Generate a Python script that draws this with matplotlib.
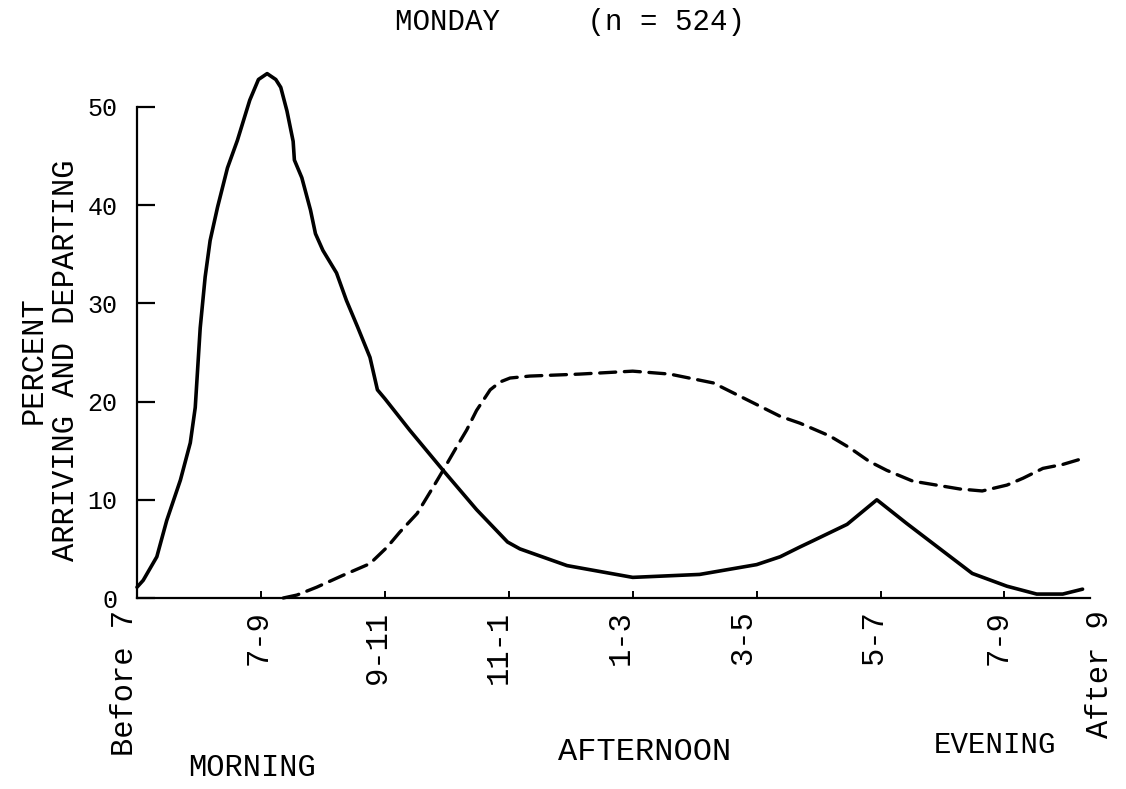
import matplotlib
matplotlib.use("Agg")
import matplotlib.pyplot as plt
import matplotlib.transforms as mtransforms

# time axis in "period" units: Before 7 = 0, 7-9 = 1, ... 7-9 (pm) = 7
periods = ["Before 7", "7-9", "9-11", "11-1", "1-3", "3-5", "5-7", "7-9", "After 9"]
period_pos = [0, 1, 2, 3, 4, 5, 6, 7, 7.69]

# solid curve (% per position)
solid_x = [0.00, 0.05, 0.16, 0.24, 0.35, 0.43, 0.47, 0.51, 0.55, 0.59, 0.65, 0.73,
           0.81, 0.91, 0.98, 1.05, 1.12, 1.16, 1.21, 1.26, 1.27, 1.33, 1.40, 1.44,
           1.50, 1.61, 1.69, 1.78, 1.88, 1.94, 2.00, 2.20, 2.47, 2.74, 2.99, 3.09,
           3.47, 4.00, 4.54, 5.00, 5.19, 5.35, 5.45, 5.73, 5.97, 6.21, 6.48, 6.74,
           7.02, 7.26, 7.47, 7.63]
solid_y = [1.1, 1.8, 4.2, 7.9, 12.0, 15.8, 19.4, 27.5, 32.7, 36.4, 39.8, 43.8,
           46.6, 50.7, 52.8, 53.4, 52.8, 52.0, 49.6, 46.5, 44.6, 42.8, 39.5, 37.1,
           35.4, 33.1, 30.3, 27.6, 24.5, 21.2, 20.3, 17.1, 13.0, 9.0, 5.7, 5.0,
           3.3, 2.1, 2.4, 3.4, 4.2, 5.2, 5.8, 7.5, 10.0, 7.6, 5.0, 2.5,
           1.2, 0.4, 0.4, 0.9]

# dashed curve
dash_x = [1.18, 1.29, 1.45, 1.66, 1.88, 2.02, 2.12, 2.26, 2.39, 2.47, 2.58, 2.66,
          2.74, 2.85, 2.93, 3.01, 3.17, 3.57, 4.00, 4.30, 4.65, 5.00, 5.19, 5.35,
          5.59, 5.75, 5.91, 6.05, 6.26, 6.45, 6.64, 6.82, 7.02, 7.15, 7.31, 7.47,
          7.63]
dash_y = [0.0, 0.3, 1.1, 2.3, 3.5, 5.2, 6.7, 8.6, 11.3, 13.0, 15.4, 17.1,
          19.1, 21.2, 22.0, 22.4, 22.6, 22.8, 23.1, 22.8, 21.9, 19.7, 18.5, 17.8,
          16.5, 15.3, 13.9, 13.0, 11.9, 11.5, 11.1, 10.9, 11.5, 12.2, 13.2, 13.6,
          14.2]

y_ticks = [0, 10, 20, 30, 40, 50]

FONT = ["Liberation Mono", "DejaVu Sans Mono"]

fig = plt.figure(figsize=(11.26, 7.89), dpi=100)
ax = fig.add_axes([137 / 1126, 1 - 598 / 789, (1090 - 137) / 1126, (598 - 107) / 789])

ax.plot(solid_x, solid_y, color="black", lw=2.6, solid_joinstyle="round",
        solid_capstyle="round", clip_on=False, zorder=3)
ax.plot(dash_x, dash_y, color="black", lw=2.4, dashes=(4.8, 2.6),
        dash_capstyle="round", clip_on=False, zorder=3)

ax.set_xlim(0, 7.69)
ax.set_ylim(0, 50)
for s in ["top", "right"]:
    ax.spines[s].set_visible(False)
for s in ["left", "bottom"]:
    ax.spines[s].set_linewidth(1.6)

ax.set_yticks(y_ticks)
ax.set_yticklabels([str(v) for v in y_ticks], family=FONT, fontsize=18)
ax.tick_params(axis="y", direction="in", length=13, width=1.6, pad=14)

ax.set_xticks(period_pos)
ax.set_xticklabels(periods, family=FONT, fontsize=22, rotation=90)
ax.tick_params(axis="x", direction="in", length=5, width=1.4, pad=9)
ax.xaxis.get_major_ticks()[-1].tick1line.set_visible(False)
shifts = [-12, -2, -7, -10, -12, -14, -6, -6, 10]
for lab, dx in zip(ax.get_xticklabels(), shifts):
    lab.set_transform(lab.get_transform() +
                      mtransforms.ScaledTranslation(dx / 100, 0, fig.dpi_scale_trans))

fig.text(50 / 1126, 1 - 360 / 789, "PERCENT\nARRIVING AND DEPARTING", rotation=90,
         ha="center", va="center", multialignment="center", linespacing=1.1,
         family=FONT, fontsize=22)
fig.text(570 / 1126, 1 - 22 / 789, "MONDAY     (n = 524)", ha="center", va="center",
         family=FONT, fontsize=21)
fig.text(252 / 1126, 1 - 768 / 789, "MORNING", ha="center", va="center",
         family=FONT, fontsize=22)
fig.text(645 / 1126, 1 - 752 / 789, "AFTERNOON", ha="center", va="center",
         family=FONT, fontsize=23)
fig.text(995 / 1126, 1 - 745 / 789, "EVENING", ha="center", va="center",
         family=FONT, fontsize=21)

fig.savefig("out.png", dpi=100)
